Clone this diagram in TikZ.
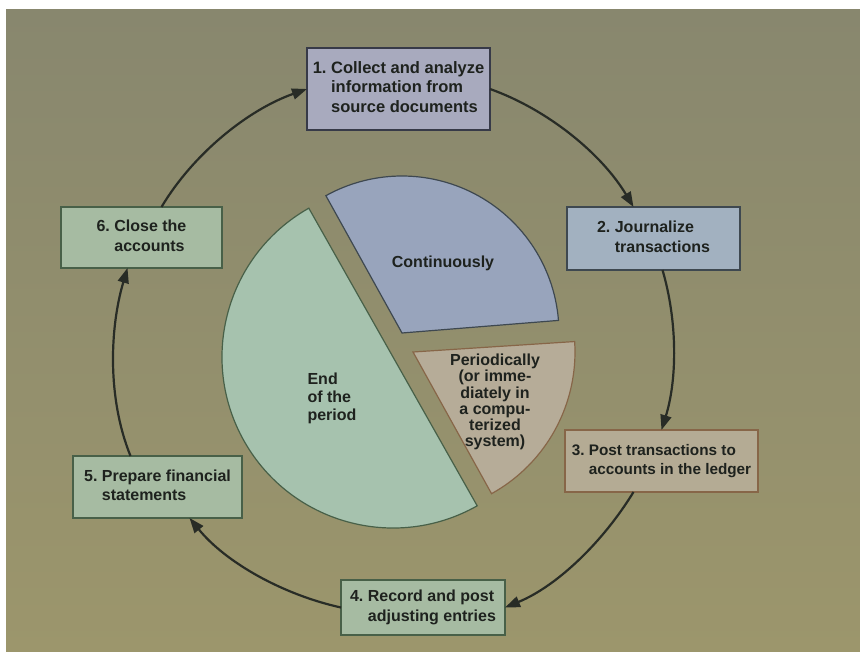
\documentclass[tikz,border=0pt]{standalone}
\usepackage{fontspec}
\setmainfont{Liberation Sans}
\usetikzlibrary{arrows.meta,calc}
\definecolor{bgtop}{RGB}{136,135,110}
\definecolor{bgbot}{RGB}{156,150,108}
\definecolor{bfa}{RGB}{168,170,190}
\definecolor{bfb}{RGB}{162,177,192}
\definecolor{bfc}{RGB}{180,171,148}
\definecolor{bfg}{RGB}{166,187,162}
\definecolor{bda}{RGB}{55,58,72}
\definecolor{bdb}{RGB}{62,72,80}
\definecolor{bdc}{RGB}{135,102,72}
\definecolor{bdg}{RGB}{72,96,72}
\definecolor{pblue}{RGB}{152,164,188}
\definecolor{pgreen}{RGB}{166,194,174}
\definecolor{ptan}{RGB}{182,172,152}
\definecolor{arrc}{RGB}{40,44,38}
\definecolor{txt}{RGB}{30,34,30}
\begin{document}
\begin{tikzpicture}[x=1pt,y=1pt,
  txtstyle/.style={text=txt,font=\bfseries\fontsize{16}{19.5}\selectfont},
  stepbox/.style={txtstyle,rectangle,line width=1.3pt,inner sep=0pt,outer sep=0pt,align=left},
  arr/.style={draw=arrc,line width=2.2pt,-{Triangle[length=15pt,width=11pt,fill=arrc]},looseness=0.85}]
\useasboundingbox (0,0) rectangle (860,-652);
\fill[white] (0,0) rectangle (860,-652);
\shade[top color=bgtop,bottom color=bgbot] (6,-10) rectangle (860,-652);

% pie slices
\coordinate (gc) at (393,-357);
\coordinate (bc) at (402,-333);
\coordinate (tc) at (413,-352);
\filldraw[fill=pgreen,draw=bdg,line width=1.2pt] ($(gc)+(119.5:171)$) arc[start angle=119.5,end angle=299.5,radius=171] -- cycle;
\filldraw[fill=pblue,draw=bdb,line width=1.2pt] (bc) -- ++(4.6:157) arc[start angle=4.6,end angle=119,radius=157] -- cycle;
\filldraw[fill=ptan,draw=bdc,line width=1.2pt] (tc) -- ++(-61:162) arc[start angle=-61,end angle=3.7,radius=162] -- cycle;

\node[txtstyle] (pc) at (443,-263) {Continuously};
\node[txtstyle,align=left,font=\bfseries\fontsize{16}{18}\selectfont] (pe) at (332,-398) {End\\of the\\period};
\node[txtstyle,align=center,font=\bfseries\fontsize{16}{16.2}\selectfont] (pp) at (495,-402) {Periodically\\(or imme-\\diately in\\a compu-\\terized\\system)};

% boxes
\node[stepbox,fill=bfa,draw=bda,minimum width=183,minimum height=82,font=\bfseries\fontsize{16.5}{19.5}\selectfont] (b1) at (398.5,-89)
  {\begin{tabular}{@{}l@{\hspace{.278em}}l@{}}1.&Collect and analyze\\&information from\\&source documents\end{tabular}};
\node[stepbox,fill=bfb,draw=bdb,minimum width=173,minimum height=63] (b2) at (653.5,-238.5)
  {\begin{tabular}{@{}l@{\hspace{.278em}}l@{}}2.&Journalize\\&transactions\end{tabular}};
\node[stepbox,fill=bfc,draw=bdc,minimum width=193,minimum height=62,font=\bfseries\fontsize{15.3}{19.5}\selectfont] (b3) at (661.5,-461)
  {\begin{tabular}{@{}l@{\hspace{.278em}}l@{}}3.&Post transactions to\\&accounts in the ledger\end{tabular}};
\node[stepbox,fill=bfg,draw=bdg,minimum width=164,minimum height=55] (b4) at (423,-607.5)
  {\begin{tabular}{@{}l@{\hspace{.278em}}l@{}}4.&Record and post\\&adjusting entries\end{tabular}};
\node[stepbox,fill=bfg,draw=bdg,minimum width=169,minimum height=62] (b5) at (157.5,-487)
  {\begin{tabular}{@{}l@{\hspace{.278em}}l@{}}5.&Prepare financial\\&statements\end{tabular}};
\node[stepbox,fill=bfg,draw=bdg,minimum width=161,minimum height=61] (b6) at (141.5,-237.5)
  {\begin{tabular}{@{}l@{\hspace{.278em}}l@{}}6.&Close the\\&accounts\end{tabular}};

% cycle arrows
\draw[arr] (b1.east) to[out=-19.6,in=120.9] ([xshift=-20pt]b2.north);
\draw[arr] ([xshift=9pt]b2.south) to[out=-73.6,in=72.7] (b3.north);
\draw[arr] ([xshift=-28pt]b3.south) to[out=-121.4,in=22.4] (b4.east);
\draw[arr] (b4.west) to[out=167.6,in=-50.8] ([xshift=32pt]b5.south);
\draw[arr] ([xshift=-27pt]b5.north) to[out=112,in=-106.5] ([xshift=-14pt]b6.south);
\draw[arr] ([xshift=20pt]b6.north) to[out=59.2,in=-160.6] (b1.west);
\end{tikzpicture}
\end{document}
